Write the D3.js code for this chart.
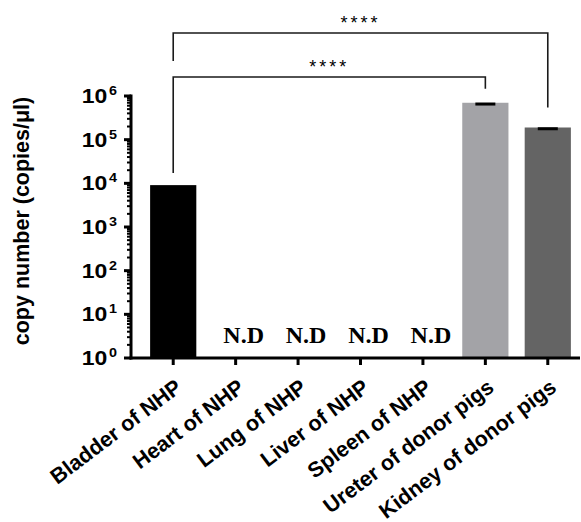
<!DOCTYPE html>
<html>
<head>
<meta charset="utf-8">
<script src="https://cdnjs.cloudflare.com/ajax/libs/d3/7.8.5/d3.min.js"></script>
<style>
  body { margin: 0; background: #fff; }
  svg { display: block; }
</style>
</head>
<body>
<div id="chart"></div>
<script>
// data (copies/ul, log scale); null = not detected
const categories = ["Bladder of NHP", "Heart of NHP", "Lung of NHP", "Liver of NHP",
                    "Spleen of NHP", "Ureter of donor pigs", "Kidney of donor pigs"];
const means = [9100, null, null, null, null, 700000, 190000];
const errors = [0, null, null, null, null, 8000, 2500];
const barColors = ["#000000", "#000", "#000", "#000", "#000", "#a3a3a7", "#646464"];
const yTickValues = [1, 10, 100, 1000, 10000, 100000, 1000000];
const comparisons = [
  { a: "Bladder of NHP", b: "Ureter of donor pigs", label: "****" },
  { a: "Bladder of NHP", b: "Kidney of donor pigs", label: "****" }
];

const width = 581, height = 522;
const plot = { left: 131, right: 580, top: 96, bottom: 358 };
const sansBold = "Liberation Sans, Arial, sans-serif";

const svg = d3.select("#chart").append("svg")
  .attr("width", width)
  .attr("height", height);

const x = d3.scaleBand()
  .domain(categories)
  .range([142, 579])
  .paddingInner(0.26)
  .paddingOuter(0.13);

const y = d3.scaleLog()
  .domain([1, 1e6])
  .range([plot.bottom, plot.top]);

// bars
const rows = categories.map((c, i) => ({ name: c, value: means[i], err: errors[i], color: barColors[i] }));

svg.selectAll(".bar")
  .data(rows.filter(d => d.value != null))
  .enter()
  .append("rect")
    .attr("class", "bar")
    .attr("x", d => x(d.name))
    .attr("y", d => y(d.value))
    .attr("width", x.bandwidth())
    .attr("height", d => plot.bottom - y(d.value))
    .attr("fill", d => d.color);

// error bars (tiny SD)
const errRows = rows.filter(d => d.value != null && d.err > 0);
svg.selectAll(".err")
  .data(errRows)
  .enter()
  .append("line")
    .attr("x1", d => x(d.name) + x.bandwidth() / 2 - 10)
    .attr("x2", d => x(d.name) + x.bandwidth() / 2 + 10)
    .attr("y1", d => y(d.value + d.err) + 1.5)
    .attr("y2", d => y(d.value + d.err) + 1.5)
    .attr("stroke", "#000")
    .attr("stroke-width", 3);

// N.D labels
svg.selectAll(".nd")
  .data(rows.filter(d => d.value == null))
  .enter()
  .append("text")
    .attr("x", d => x(d.name) + x.bandwidth() / 2 + 8)
    .attr("y", 343)
    .attr("text-anchor", "middle")
    .attr("font-family", "Liberation Serif, Times New Roman, serif")
    .attr("font-weight", "bold")
    .attr("font-size", 24)
    .text("N.D");

// y axis
const yAxis = svg.append("g")
  .attr("transform", `translate(${plot.left},0)`);

const minorTicks = [];
for (let e = 0; e < 6; e++) {
  for (let m = 2; m <= 9; m++) minorTicks.push(m * Math.pow(10, e));
}
yAxis.selectAll(".minor")
  .data(minorTicks)
  .enter()
  .append("line")
    .attr("x1", -4).attr("x2", 0)
    .attr("y1", d => y(d)).attr("y2", d => y(d))
    .attr("stroke", "#000")
    .attr("stroke-width", 2);

yAxis.selectAll(".major")
  .data(yTickValues)
  .enter()
  .append("line")
    .attr("x1", -7).attr("x2", 0)
    .attr("y1", d => y(d)).attr("y2", d => y(d))
    .attr("stroke", "#000")
    .attr("stroke-width", 3);

yAxis.append("line")
  .attr("x1", 0).attr("x2", 0)
  .attr("y1", plot.top - 1.5).attr("y2", plot.bottom + 1.5)
  .attr("stroke", "#000")
  .attr("stroke-width", 3);

// tick labels: 10 with superscript exponent, slightly widened like the original
const tickLabels = yAxis.selectAll(".tl")
  .data(yTickValues)
  .enter()
  .append("text")
    .attr("transform", d => `translate(-14,${y(d) + 7}) scale(1.15,1)`)
    .attr("text-anchor", "end")
    .attr("font-family", sansBold)
    .attr("font-weight", "bold")
    .attr("font-size", 20);
tickLabels.append("tspan").text("10");
tickLabels.append("tspan")
  .attr("dx", 1.5)
  .attr("dy", -8)
  .attr("font-size", 12.5)
  .text(d => Math.round(Math.log10(d)));

// x axis
const xAxis = svg.append("g");
xAxis.append("line")
  .attr("x1", plot.left - 1.5).attr("x2", plot.right)
  .attr("y1", plot.bottom).attr("y2", plot.bottom)
  .attr("stroke", "#000")
  .attr("stroke-width", 3);

xAxis.selectAll(".xt")
  .data(categories)
  .enter()
  .append("line")
    .attr("x1", d => x(d) + x.bandwidth() / 2)
    .attr("x2", d => x(d) + x.bandwidth() / 2)
    .attr("y1", plot.bottom)
    .attr("y2", plot.bottom + 7)
    .attr("stroke", "#000")
    .attr("stroke-width", 3);

xAxis.selectAll(".xl")
  .data(categories)
  .enter()
  .append("text")
    .attr("transform", d => `translate(${x(d) + x.bandwidth() / 2 + 10},390) rotate(-37)`)
    .attr("text-anchor", "end")
    .attr("font-family", sansBold)
    .attr("font-weight", "bold")
    .attr("font-size", 21.5)
    .text(d => d);

// y axis title
svg.append("text")
  .attr("transform", "translate(29,221) rotate(-90)")
  .attr("text-anchor", "middle")
  .attr("font-family", sansBold)
  .attr("font-weight", "bold")
  .attr("font-size", 21.5)
  .text("copy number (copies/\u03bcl)");

// significance brackets
const cx = name => x(name) + x.bandwidth() / 2;
const levels = [77, 33];
const leftDrops = [173, 61];
const rightGaps = [14, 20];

comparisons.forEach((c, i) => {
  const yb = levels[i];
  const yRight = y(means[categories.indexOf(c.b)]) - rightGaps[i];
  svg.append("path")
    .attr("d", `M${cx(c.a)},${leftDrops[i]}V${yb}H${cx(c.b)}V${yRight}`)
    .attr("fill", "none")
    .attr("stroke", "#1a1a1a")
    .attr("stroke-width", 1.6);
  svg.append("text")
    .attr("x", (cx(c.a) + cx(c.b)) / 2)
    .attr("y", yb - 4)
    .attr("text-anchor", "middle")
    .attr("font-family", sansBold)
    .attr("font-size", 18)
    .attr("letter-spacing", 3)
    .text(c.label);
});
</script>
</body>
</html>
